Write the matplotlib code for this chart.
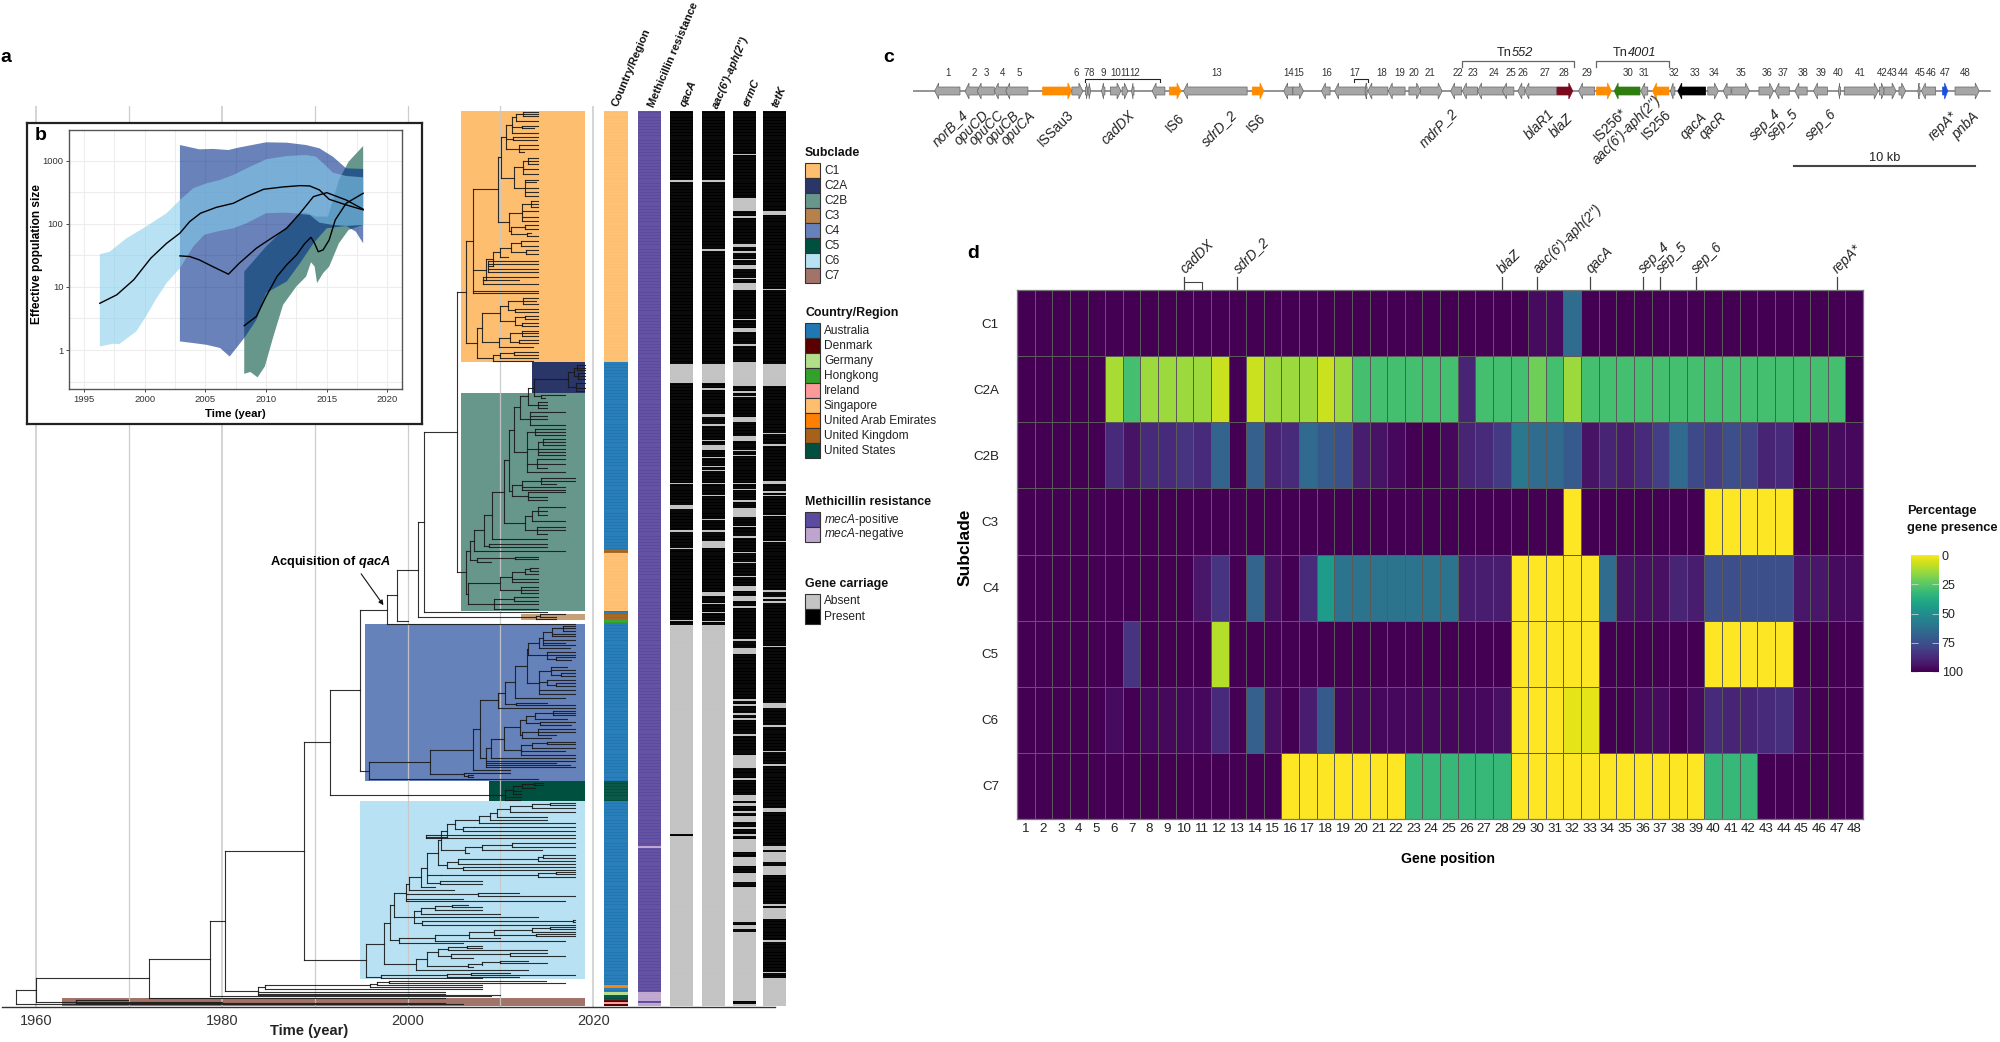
import numpy as np
import matplotlib
matplotlib.use('Agg')
import matplotlib.pyplot as plt
from matplotlib.collections import LineCollection
from matplotlib.patches import Rectangle

plt.rcParams['font.family'] = ['Liberation Sans', 'DejaVu Sans']
plt.rcParams['mathtext.fontset'] = 'custom'
plt.rcParams['mathtext.rm'] = 'Liberation Sans'
plt.rcParams['mathtext.it'] = 'Liberation Sans:italic'
plt.rcParams['mathtext.bf'] = 'Liberation Sans:bold'
plt.rcParams['mathtext.bfit'] = 'Liberation Sans:italic:bold'

W, H = 2000, 1042
N_ROWS = 312

# ---------- panel a: tree, node = (year, children...), leaf = [row, tip year]
C1 = (2006.3,
      (2007.0,
       (2009.7,
        (2010.1,
         (2010.6,
          (2011.3,
           (2011.7, (2012.4, [0.3, 2014], [1, 2014], [1.8, 2014]), [3.5, 2014]),
           (2012.3, [5.2, 2014], [6.2, 2013.6]),
           [7.6, 2014]),
          (2011.4, [9.2, 2014], [10.2, 2013.9]),
          (2012.0, [12, 2014], [13.2, 2014], [14.5, 2012.5])),
         (2011.5,
          (2012.4, (2013, [16.5, 2014], [17.5, 2014], [18.5, 2014]), [20.3, 2014], [22, 2014]),
          (2012.6, [24, 2014], [25, 2013.8], [27, 2014], [28.5, 2014], [29.8, 2014]))),
        (2010.9,
         (2012.3, (2013.3, [31.5, 2014], [32.5, 2014], [33.5, 2014]), [35, 2014], [37, 2014], [38.5, 2014]),
         (2011.1, (2012.6, [40, 2014], [41.2, 2014]), (2012.9, [42.5, 2013.3], [43.5, 2014])))),
       (2008.5,
        (2009.2,
         (2010.0,
          (2011.1, (2012.2, [45.5, 2014], [47, 2014]), (2012.8, [48.5, 2014], [49.8, 2014])),
          [51, 2010.8]),
         (2008.7, [52.2, 2014], [53.5, 2014], [55, 2014], [56.3, 2014])),
        (2008.1, [57.8, 2014], [59, 2012], [60.5, 2014])),
       [62.7, 2014], [63.5, 2014]),
      (2007.5,
       (2008.0,
        (2010.0,
         (2010.8, (2012.4, [65.3, 2014], [66.3, 2013.8], [67.5, 2014]), (2011.6, [69, 2014], [70, 2014])),
         (2011.6, (2012.6, [71.5, 2014], [72.5, 2014]), (2012.3, [74, 2014], [75, 2014]))),
        (2009.8,
         (2011.0, (2012.3, [76.6, 2014], [77.6, 2014], [78.5, 2014]), (2012, [80, 2014], [81, 2014])),
         [82.5, 2013.5])),
       (2009.2,
        (2010.0, (2011.5, [84, 2014], [85, 2014]), [86, 2014]),
        [87.2, 2013.5])))

C2A = (2017.3,
       (2017.9,
        (2018.3, [88.5, 2019.1], [89.5, 2019.1], [90.5, 2019.1]),
        (2018.4, [91.5, 2019.1], [92.5, 2019.1], [93.5, 2019.1])),
       (2018.2, [95, 2019.1], [96.5, 2019.1], [97.5, 2019]))

C2B = (2006.3,
       (2006.7,
        (2007.2,
         (2008.2,
          (2009.1,
           (2010.4,
            (2010.9,
             (2011.5,
              (2012.1,
               (2013.0,
                (2013.6, C2A,
                 (2014.4, [99, 2017], [100, 2014.8])),
                (2014.0, [101.5, 2015], [102.5, 2015], [103.5, 2015])),
               (2013.2, [105, 2017], [106.5, 2015], [107.5, 2015], [109.5, 2017])),
              (2012.9,
               (2013.7, [111, 2017], [112, 2017], [113, 2017]),
               (2014.0, (2014.6, [114.5, 2017], [115.5, 2017], [116.5, 2017]), [118, 2017], [119, 2017], [120, 2017]),
               (2013.9, [121.5, 2017], [123, 2017], [124.5, 2015]),
               [126, 2017])),
             (2011.3,
              (2012.3, (2014.4, [128, 2018], [129, 2018], [130, 2016]), [131, 2017], [132, 2017]),
              (2013.0, [133, 2017], [134.5, 2015], [135.8, 2015]))),
            (2012.6,
             (2013.4, (2014, [138, 2017], [139.5, 2015], [141, 2015]), [143, 2017]),
             (2013.9, [145, 2017], [146, 2017], [147.5, 2015]))),
           [149.3, 2015]),
          (2008.8, [151, 2015], [152, 2015])),
         [153.5, 2017]),
        (2007.5, (2011.6, [155.5, 2014], [156.3, 2014]), [157.3, 2009])),
       (2006.5,
        (2010.0,
         (2011.2, (2012.7, (2013.2, [159.3, 2014], [160.3, 2014]), [161.5, 2014]), [163, 2014], [164.3, 2014]),
         (2012.2, [165.8, 2014], [167, 2014], [168.2, 2014])),
        (2009.3, (2011.5, [169.5, 2014], [170.8, 2014]), [172, 2014], [173.5, 2014])))

C3 = (2013.8, (2014.3, [175.5, 2017], [176.3, 2016]), [177.2, 2016])

C4 = (1995.8,
      (2002.4,
       (2007.1,
        (2007.8,
         (2009.7,
          (2010.5,
           (2011.6,
            (2012.9,
             (2013.0,
              (2014.2,
               (2014.6, (2015.6, (2016.7, [179.5, 2018], [180.3, 2018], [181.2, 2018]), [182.4, 2018], [183.2, 2018]),
                [184.4, 2018], [185.3, 2017], [186, 2018]),
               [187.3, 2017.5]),
              (2015, [188.6, 2018], [189.5, 2018], (2016, [190.5, 2018], [191.3, 2017.6]))),
             (2014.2,
              (2015.5, [194, 2017.2], [195, 2018], (2016.5, [196, 2018], [197, 2018])),
              (2015, [198.4, 2018], (2016, [199.5, 2018], [200.5, 2018])),
              [202, 2018], [203.3, 2018])),
            [204.6, 2017]),
           (2011.7, [206.3, 2015], [206.9, 2018])),
          [208, 2018]),
         (2008.5,
          (2009.0,
           (2010.4,
            (2012.1,
             (2012.8,
              (2013.7, (2015.7, [209, 2018], [209.8, 2018], [210.6, 2018]), [211.8, 2017.2]),
              (2014.3, [213, 2018], [214, 2017.6])),
             (2012.3, (2014, [215.4, 2018], [216.4, 2018], [217.4, 2016]), [218.4, 2015.5])),
            (2012.2, (2013.4, (2015, [219.8, 2018], [220.8, 2018]), [222, 2018]), [223.2, 2017], [224.4, 2018])),
           [225.6, 2018]),
          [226.5, 2018], [227.2, 2016], [228, 2017.5], [228.8, 2018])),
        [229.8, 2011]),
       (2006.1, [230.6, 2011], (2006.5, [231.6, 2007], [232.2, 2007]))),
      [233, 2014])

C5 = (2010.5,
      (2011.4, (2012.3, (2013.6, [234.3, 2014.6], [235.1, 2014.6]), [236, 2013.7]), [237, 2012.2], [238, 2012.2]),
      [239, 2012.2], [240, 2012.1])

C6 = (1995.5,
      (1997.5,
       (1998.1,
        (1998.5,
         (1999.8,
          (2000.2,
           (2001.4,
            (2002.1,
             (2003.3,
              (2003.6,
               (2004.2,
                (2005.1,
                 (2007.7,
                  (2008.9,
                   (2009.6,
                    (2011, (2013.4, (2015.3, [241.2, 2018], [242, 2018]), [243, 2018]), [244.5, 2018]),
                    [246, 2015]),
                   [247, 2015]),
                  [248.3, 2018]),
                 (2006, (2007.2, [249.5, 2018]), [251, 2018])),
                (2002, [252.5, 2018], [253.5, 2018])),
               (2006.2, (2008, (2011.2, [255, 2018], [256.5, 2018]), [257.5, 2014.5]), [258.5, 2006.6])),
              (2004.2,
               (2005.4, (2014, (2014.6, [259.5, 2018], [260.5, 2018]), [261.5, 2018]), [262.5, 2018]),
               (2006, [263.5, 2018], [264.5, 2018]))),
             (2003.6, (2014, (2016, [265.3, 2018], [266, 2018]), [267, 2018])),
             (2003.5, [268.5, 2008], [269.5, 2008])),
            [270.5, 2003]),
           [271.5, 2005]),
          (2007.6, [272.5, 2012], [273.5, 2018]),
          [274.5, 2006], [275.5, 2017]),
         (2000.7,
          (2001.4, (2002.9, (2004.8, [276.6, 2006.5], [277.5, 2008]), [278.5, 2008]), [279.8, 2010]),
          [281, 2014],
          (2001.5, (2017.8, [282, 2018], [282.8, 2018]), [283.6, 2018]))),
        (1999.1,
         (2003,
          (2006.6,
           (2009.3, (2013.4, (2015.3, [284.4, 2018], [285.2, 2018]), [286, 2018]), (2013.8, [286.8, 2018], [287.5, 2018])),
           [288.2, 2010]),
          [289.2, 2017]),
         [290, 2006])),
       (2000.9,
        (2002.1,
         (2003.3,
          (2004.4, (2006.4, [291, 2008], [291.8, 2008]), [292.5, 2015]),
          (2004.7, (2011, [293.5, 2015], [294.5, 2017]), [295.3, 2007])),
         (2006.5,
          (2008, (2010, [296.3, 2013], [297, 2015]), [297.8, 2008]),
          [298.5, 2007])),
        [299.4, 2013])),
      (1997.1,
       (2004.2,
        (2006.8, [300.3, 2011], [301, 2018]),
        [301.7, 2012]),
       [302.3, 2008]))

C7 = (1964.3, [309.9, 1969.9], [310.4, 1980], [310.9, 2004])

BASAL = (1983.9,
         (1984.6,
          (1996,
           (1996.7, (1998, [303.3, 2014.9], [304.1, 2017]), [304.6, 2008]),
           [305.2, 2008]),
          [306.2, 2008]),
         [307.1, 2004], [307.6, 2004], [308, 2010])

TREE = (1957.8,
        (1960,
         (1972.1,
          (1978.7,
           (1980.3,
            (1988.8,
             (1991.6,
              (1994.9,
               (1997.8,
                (1998.9,
                 (2001.1,
                  (2001.8,
                   (2005.3, C1, C2B),
                   [174.6, 2015]),
                  C3),
                 [177.9, 2000]),
                [178.7, 2018]),
               C4),
              C5),
             C6),
            BASAL),
           [308.5, 2009]),
          [309.1, 2004]),
         C7),
        [311.4, 2006])

clade_names = ['C1', 'C2A', 'C2B', 'C3', 'C4', 'C5', 'C6', 'C7']
clade_colors = ['#FDBF6F', '#2A3568', '#66978A', '#B6814B', '#6682BA', '#00503F', '#B8E2F4', '#A27369']
clade_first_year = [2005.75, 2013.4, 2005.75, 2012.2, 1995.4, 2008.8, 1994.9, 1962.8]
clade_row_top = [0, 87.6, 98.2, 175.2, 179, 233.5, 240.6, 309.3]
clade_row_bottom = [87.6, 98.2, 174.3, 177.5, 233.5, 240.6, 302.4, 312]
clade_alpha = [1, 1, 1, .75, 1, 1, 1, 1]

country_names = ['Australia', 'Denmark', 'Germany', 'Hongkong', 'Ireland', 'Singapore',
                 'United Arab Emirates', 'United Kingdom', 'United States']
country_colors = ['#1F78B4', '#5A0000', '#B2DF8A', '#33A02C', '#FB9A99', '#FDBF6F',
                  '#FF7F00', '#A6611A', '#00503F']
country_runs = ['Singapore', 'Australia', 'United Kingdom', 'Singapore', 'Australia', 'United Kingdom',
                'Hongkong', 'Australia', 'United States', 'Australia', 'United Arab Emirates', 'Australia',
                'Germany', 'United States', 'Denmark', 'Ireland', 'Denmark']
country_lengths = [87.6, 65.6, 0.8, 20.4, 1.0, 2.2, 0.9, 55.1, 7.1, 64.1, 0.9, 1.5, 0.9, 1.7, 0.9, 0.6, 0.9]

meth_neg = [(256.1, .7), (307.1, 3), (310.8, 1.2)]
qacA_absent = [(24.3, .7), (88.2, 6.6), (129.7, .5), (137.5, 1.2), (146.2, .5), (152.5, .4),
               (177.4, .4), (179.2, 72.8), (252.8, 59.2)]
aac_absent = [(24.3, .7), (48.3, .5), (88.2, 6.6), (96.6, .6), (105.6, 1.2), (109.2, .6), (114.6, .6),
              (116.4, 1.8), (120.7, .4), (123.7, .5), (125.1, .5), (129.7, .5), (133.9, .4), (142.3, .5),
              (146.2, .5), (150, 2.5), (167.9, 1.2), (171.5, .5), (174.6, .5), (177.7, .4), (179.1, 132.9)]
ermC_absent = [(15, .6), (30.3, 4.5), (36.6, .9), (46.6, .8), (49, .5), (51.6, .6), (53.8, 1.4), (58.2, .6),
               (60, 2.4), (72.6, .5), (75.6, 1.4), (81.4, .5), (87.6, 8.2), (97.8, .5), (99.4, .5), (106.9, 1.7),
               (113.4, 1.6), (118.2, .4), (120, .5), (129.7, .5), (131.8, .5), (135.7, .6), (138.6, 3), (144.7, .5),
               (148.3, .5), (153.7, .4), (157.2, .5), (162, .5), (165.7, 1.8), (169, 2), (172.6, .6), (184, .7),
               (187.4, 2.1), (205.1, .5), (206.8, .6), (210, .6), (211.5, .8), (217.2, .7), (224.5, 4.7), (232.7, .6),
               (238.5, 2), (241.4, .9), (243.9, .7), (245.7, 2.3), (249.7, .6), (252, .6), (253.7, 4.8), (260.1, 3.2),
               (265.8, 3.1), (270.7, 12), (283.7, 1.3), (286.1, 24.2), (311.2, .8)]
tetK_absent = [(35, 1.2), (62, .5), (88.2, 7.6), (112.2, .5), (116.2, .5), (129, 1.2), (132.6, .5), (134, .4),
               (141, .4), (149.8, .5), (167, .9), (169.4, .6), (170.9, .5), (186.6, .4), (206.5, 1.8), (214.1, .5),
               (223, .6), (227.5, .9), (243.1, 1.4), (256.3, 1.3), (258.5, 3.2), (263.3, 3), (276.5, .5),
               (278, 3.8), (289, .8), (300, .6), (302.2, 9.8)]

column_titles = ['Country/Region', 'Methicillin resistance', 'qacA', "aac(6')-aph(2'')", 'ermC', 'tetK']
column_styles = ['normal', 'normal', 'italic', 'italic', 'italic', 'italic']

# ---------- panel b: skyline curves
c2b_hi_x = [2008.2, 2010, 2011.7, 2012.8, 2013.3, 2014.1, 2015.1, 2016, 2016.8, 2018]
c2b_hi = [17.5, 43.6, 90, 147, 150, 130, 130, 494, 963, 1703]
c2b_lo_x = [2008.2, 2008.7, 2009.3, 2009.9, 2010.6, 2011.4, 2012.5, 2013.3, 2013.7, 2014, 2014.2, 2014.7, 2015.2, 2016, 2016.8, 2018]
c2b_lo = [.42, .45, .37, .55, 1.64, 5.2, 10.2, 14.6, 24.6, 21, 11.5, 16.5, 21, 49, 80, 96]
c2b_mid_x = [2008.2, 2009.2, 2010, 2010.9, 2011.7, 2012.5, 2013.2, 2013.7, 2014, 2014.3, 2014.7, 2015.2, 2015.7, 2016.6, 2018]
c2b_mid = [2.43, 3.4, 7.06, 14.6, 22.4, 32, 49, 61, 49, 36, 38.6, 55.6, 115, 211, 304]

c4_hi_x = [2002.9, 2004.5, 2005.6, 2006.9, 2007.7, 2010, 2011.7, 2013.3, 2014.4, 2015.5, 2016.6, 2018]
c4_hi = [1766, 1510, 1533, 1473, 1603, 1950, 1925, 1766, 1566, 1156, 755, 738]
c4_lo_x = [2002.9, 2004, 2005.1, 2006.2, 2007, 2008.2, 2009.2, 2010, 2011.7, 2012.8, 2013.9, 2015, 2016.6, 2017.4, 2018]
c4_lo = [1.37, 1.29, 1.21, 1.08, .79, 1.55, 3, 8, 12.2, 23.8, 49, 85, 92, 75, 49]
c4_mid_x = [2002.9, 2003.7, 2004.5, 2005.6, 2006.9, 2007.8, 2009.2, 2010, 2011.7, 2012.8, 2013.9, 2015, 2016.6, 2018]
c4_mid = [31, 30.3, 26.8, 21, 15.9, 23.8, 41, 52, 85, 147, 269, 311, 238, 170]

c6_hi_x = [1996.3, 1997.1, 1998.5, 2000.1, 2001.8, 2002.9, 2004, 2005.1, 2006.2, 2007.3, 2008.4, 2010, 2011.7, 2013.3, 2014.1, 2015, 2015.5, 2016.6, 2018]
c6_hi = [33, 36, 59, 90, 147, 238, 365, 438, 494, 593, 755, 1050, 1184, 1227, 1156, 803, 645, 571, 544]
c6_lo_x = [1996.3, 1997.4, 1997.9, 1999.3, 2000.1, 2000.9, 2001.8, 2002.9, 2004, 2004.9, 2005.9, 2007.3, 2008.4, 2010, 2011.7, 2013.6, 2014.4, 2015.5, 2016.6, 2018]
c6_lo = [1.14, 1.26, 1.24, 1.97, 3.4, 6.25, 11.5, 19.8, 43.6, 66.7, 75, 85, 102, 147, 150, 138, 104, 96, 92.5, 96]
c6_mid_x = [1996.3, 1997.7, 1999.1, 2000.5, 2001.8, 2002.9, 2003.7, 2004.6, 2005.9, 2007.3, 2008.4, 2009.8, 2011.4, 2012.8, 2013.6, 2014.4, 2015.2, 2016.6, 2018]
c6_mid = [5.5, 7.5, 13, 28.5, 49, 71, 108, 147, 182, 211, 269, 352, 383, 402, 397, 343, 244, 199, 166]

# ---------- panel c: gene map (kb)
gene_start = [1.20, 2.88, 3.55, 4.50, 5.13, 7.17, 8.79, 9.54, 9.69, 10.43, 10.92, 11.57, 12.09, 13.23, 14.18, 14.97, 18.77,
              20.51, 21.02, 22.60, 23.33, 25.01, 25.17, 26.30, 27.44, 28.09, 29.75, 30.40, 31.24, 32.62, 33.47, 33.86,
              35.64, 36.83, 37.82, 38.80, 40.27, 40.92, 41.91, 42.32, 43.98, 44.83, 45.31, 46.81, 47.70, 48.80, 49.83,
              51.20, 51.53, 53.47, 53.73, 54.56, 55.60, 55.80, 56.97, 57.66]
gene_end = [2.60, 3.61, 4.50, 5.19, 6.36, 8.79, 9.40, 9.68, 9.83, 10.62, 11.51, 11.89, 12.23, 13.94, 14.83, 18.49, 19.42,
            21.02, 21.61, 23.08, 25.05, 25.13, 26.28, 27.23, 28.09, 29.28, 30.35, 31.24, 32.72, 33.25, 33.86, 35.62,
            36.51, 37.72, 38.65, 40.23, 40.66, 41.83, 42.16, 43.86, 44.57, 45.27, 46.29, 47.62, 48.49, 49.48, 50.60,
            51.33, 53.41, 53.77, 54.40, 54.93, 55.72, 56.59, 57.26, 59.00]
gene_strand = list('LLLLLRRRRLRRLLRLRLRLLLLLRRLLLLLLRLRLLLLLRLRRLLLLRRRRLLRR')
gene_special = {5: '#FF8C00', 14: '#FF8C00', 16: '#FF8C00', 32: '#7A0A1E', 34: '#FF8C00', 35: '#2E7D0E',
                37: '#FF8C00', 39: '#000000', 54: '#1A50E0'}
number_pos = [1.91, 3.39, 4.06, 4.93, 5.88, 9.02, 9.56, 9.87, 10.53, 11.22, 11.73, 12.25, 16.83, 20.80, 21.36,
              22.90, 24.46, 25.92, 26.91, 27.72, 28.59, 30.15, 30.98, 32.16, 33.09, 33.75, 34.95, 36.02, 37.28,
              39.56, 40.48, 42.10, 43.27, 44.32, 45.82, 47.24, 48.17, 49.24, 50.23, 51.21, 52.44, 53.63, 54.20,
              54.81, 55.76, 56.35, 57.14, 58.25]
map_labels = ['norB_4', 'opuCD', 'opuCC', 'opuCB', 'opuCA', 'ISSau3', 'cadDX', 'IS6', 'sdrD_2', 'IS6', 'mdrP_2',
              'blaR1', 'blaZ', 'IS256*', "aac(6')-aph(2'')", 'IS256', 'qacA', 'qacR', 'sep_4', 'sep_5', 'sep_6',
              'repA*', 'pnbA']
map_label_pos = [2.03, 3.27, 4.10, 4.95, 5.82, 7.90, 11.38, 14.48, 16.95, 18.98, 29.1, 34.69, 35.88, 38.61, 39.48,
                 41.16, 43.19, 44.28, 47.18, 48.17, 50.27, 56.99, 58.25]
map_label_drop = [37, 37, 37, 37, 37, 37, 37, 32, 37, 32, 37, 34, 35, 34, 39, 34, 35, 35, 34, 34, 34, 35, 35]

# ---------- panel d: percentage presence per gene position
positions = list(range(1, 49))
subclades = ['C1', 'C2A', 'C2B', 'C3', 'C4', 'C5', 'C6', 'C7']
pct_c1 = [100]*29 + [97, 97, 65] + [100]*16
pct_c2a = [100, 100, 100, 100, 100, 13, 30, 15, 15, 15, 15, 8, 100, 8, 15, 15, 15, 8, 15, 30, 30, 30, 30, 30, 30, 90,
           30, 30, 30, 22, 30, 15, 30, 30, 30, 30, 30, 30, 30, 30, 30, 30, 30, 30, 30, 30, 30, 100]
pct_c2b = [100, 100, 100, 100, 100, 88, 95, 88, 88, 85, 88, 68, 100, 70, 90, 88, 66, 72, 75, 92, 95, 98, 100, 100,
           98, 90, 88, 83, 60, 65, 66, 72, 95, 90, 92, 88, 82, 66, 78, 82, 76, 80, 90, 88, 100, 97, 97, 98]
pct_c3 = [100]*31 + [0] + [100]*7 + [0, 0, 0, 0, 0] + [100]*4
pct_c4 = [100]*10 + [94, 85, 100, 68, 96, 100, 88, 45, 62, 62, 62, 62, 62, 62, 62, 92, 92, 92, 0, 0, 0, 0, 0, 65, 95,
          96, 96, 90, 92, 76, 76, 76, 76, 76, 94, 94, 97, 97]
pct_c5 = [100]*6 + [85] + [100]*4 + [11] + [100]*16 + [0, 0, 0, 0, 0] + [100]*6 + [0, 0, 0, 0, 0] + [100]*4
pct_c6 = [100, 100, 100, 100, 100, 97, 100, 98, 98, 98, 98, 88, 100, 70, 96, 100, 92, 72, 98, 98, 98, 98, 98, 98, 98,
          98, 98, 96, 0, 0, 0, 4, 4, 100, 100, 97, 97, 100, 97, 88, 90, 90, 88, 86, 97, 100, 100, 100]
pct_c7 = [100]*15 + [0]*7 + [33]*6 + [0]*11 + [33, 33, 33] + [100]*6
heat_marks = {10: 'cadDX', 13: 'sdrD_2', 28: 'blaZ', 30: "aac(6')-aph(2'')", 33: 'qacA', 36: 'sep_4', 37: 'sep_5',
              39: 'sep_6', 47: 'repA*'}


def px_axes(left, top, right, bottom, **kw):
    return fig.add_axes([left / W, 1 - bottom / H, (right - left) / W, (bottom - top) / H], **kw)


def draw_node(node, segs):
    # returns y of the node, collects line segments
    if isinstance(node, list):
        return node[0]
    year = node[0]
    ys = []
    for child in node[1:]:
        y = draw_node(child, segs)
        end = child[1] if isinstance(child, list) else child[0]
        segs.append([(year, y), (end, y)])
        ys.append(y)
    segs.append([(year, min(ys)), (year, max(ys))])
    return (ys[0] + ys[-1]) / 2


fig = plt.figure(figsize=(W / 100, H / 100), dpi=100)
fig.patch.set_facecolor('white')

# ----- tree
ax = px_axes(2, 105.5, 775, 1007)
ax.patch.set_alpha(0)
px_per_year = 9.28
ax.set_xlim(1960 + (2 - 36.4) / px_per_year, 1960 + (775 - 36.4) / px_per_year)
ax.set_ylim((1007 - 110.7) / 2.87, (105.5 - 110.7) / 2.87)
for s in ['top', 'left', 'right']:
    ax.spines[s].set_visible(False)
ax.spines['bottom'].set_color('#333333')
ax.spines['bottom'].set_linewidth(1)
ax.set_yticks([])
ax.set_xticks([1960, 1980, 2000, 2020])
ax.tick_params(axis='x', labelsize=10.5, labelcolor='#333333', length=0, pad=5)
ax.set_xlabel('Time (year)', fontsize=10.6, fontweight='bold', labelpad=1, color='#222222')
ax.xaxis.set_label_coords((309 - 2) / 773, -0.019)
for yr in [1960, 1970, 1980, 1990, 2000, 2010, 2020]:
    ax.axvline(yr, color='#C8C8C8', lw=1.2 if yr in (1960, 1980, 2020) else 0.9, alpha=.9, zorder=2)
for i in range(8):
    ax.barh((clade_row_top[i] + clade_row_bottom[i]) / 2, 2019.1 - clade_first_year[i],
            height=clade_row_bottom[i] - clade_row_top[i], left=clade_first_year[i],
            color=clade_colors[i], alpha=clade_alpha[i], zorder=1, linewidth=0)
segs = []
draw_node(TREE, segs)
ax.add_collection(LineCollection(segs, colors='#1a1a1a', linewidths=0.8, alpha=.9, zorder=3, capstyle='projecting'))
ax.annotate(r'Acquisition of $\mathbfit{qacA}$', xy=(1997.4, 172.3), xytext=(1991.7, 160),
            fontsize=9.2, fontweight='bold', ha='center', va='bottom',
            arrowprops=dict(arrowstyle='-|>', color='#111111', lw=.8, shrinkA=1, shrinkB=0, mutation_scale=7,
                            relpos=(.73, 0)))

# ----- annotation columns
col_left = [604.3, 637.7, 670, 702.3, 732.7, 763]
col_width = 23.2
title_xy = [(620, 108), (656, 109), (688, 108), (720, 110), (750, 108), (779, 109)]


def column_axes(i):
    c = px_axes(col_left[i], 110.7, col_left[i] + col_width, 1006)
    c.set_xlim(0, 1)
    c.set_ylim(N_ROWS, 0)
    c.axis('off')
    return c


def stripes(c, color, alpha):
    c.hlines(np.arange(N_ROWS), 0, 1, color=color, lw=.35, alpha=alpha, zorder=5)


c = column_axes(0)
tops = np.concatenate([[0], np.cumsum(country_lengths)[:-1]])
c.barh(tops + np.array(country_lengths) / 2, 1, height=country_lengths,
       color=[country_colors[country_names.index(n)] for n in country_runs], linewidth=0)
stripes(c, 'white', .22)

c = column_axes(1)
c.barh(N_ROWS / 2, 1, height=N_ROWS, color='#5C4A9E', linewidth=0)
for st, ln in meth_neg:
    c.barh(st + ln / 2, 1, height=ln, color='#BEA5CF', linewidth=0)
stripes(c, 'white', .22)

for i, absent in zip([2, 3, 4, 5], [qacA_absent, aac_absent, ermC_absent, tetK_absent]):
    c = column_axes(i)
    c.barh(N_ROWS / 2, 1, height=N_ROWS, color='black', linewidth=0)
    for st, ln in absent:
        c.barh(st + ln / 2, 1, height=ln, color='#C4C4C4', linewidth=0)
    stripes(c, '#BBBBBB', .22)

# ----- panel b
frame = px_axes(27, 123, 422, 424)
frame.set_xticks([])
frame.set_yticks([])
frame.set_facecolor('white')
frame.set_zorder(5)
for s in frame.spines.values():
    s.set_linewidth(1.6)
    s.set_color('#222222')

ne = px_axes(69, 130, 402, 389)
ne.set_zorder(6)
ne.set_yscale('log')
ne.set_xlim(1993.76, 2021.2)
ne.set_ylim(0.2416, 3055)
ne.set_xticks([1995, 2000, 2005, 2010, 2015, 2020])
ne.set_yticks([1, 10, 100, 1000])
ne.set_yticklabels(['1', '10', '100', '1000'])
ne.set_xticks([1997.5, 2002.5, 2007.5, 2012.5, 2017.5], minor=True)
ne.set_yticks([.316, 3.16, 31.6, 316], minor=True)
ne.set_yticklabels([], minor=True)
ne.tick_params(which='minor', length=0)
ne.tick_params(which='major', labelsize=6.8, length=2, width=.7, color='#444444', labelcolor='#333333', pad=2)
ne.grid(True, which='both', color='#EDEDED', lw=.8)
ne.set_axisbelow(True)
for s in ne.spines.values():
    s.set_color('#555555')
    s.set_linewidth(1)
ne.set_xlabel('Time (year)', fontsize=8.2, fontweight='bold', labelpad=4)
ne.set_ylabel('Effective population size', fontsize=8.6, fontweight='bold')
ne.yaxis.set_label_coords(-0.0766, .521)
ne.fill(np.r_[c2b_hi_x, c2b_lo_x[::-1]], np.r_[c2b_hi, c2b_lo[::-1]], color='#66978A', lw=0)
ne.plot(c2b_mid_x, c2b_mid, color='black', lw=1)
ne.fill(np.r_[c4_hi_x, c4_lo_x[::-1]], np.r_[c4_hi, c4_lo[::-1]], color='#002B8A', alpha=.59, lw=0)
ne.plot(c4_mid_x, c4_mid, color='black', lw=1)
ne.fill(np.r_[c6_hi_x, c6_lo_x[::-1]], np.r_[c6_hi, c6_lo[::-1]], color='#85CEED', alpha=.58, lw=0)
ne.plot(c6_mid_x, c6_mid, color='black', lw=1)

# ----- panel c
gm = px_axes(913, 40, 2000, 200)
gm.set_xlim(0, 60.15)
gm.set_ylim(-109, 51)
gm.axis('off')
gm.plot([0, 59.6], [0, 0], color='#777777', lw=1.1, zorder=1)
for i, (a, b, st) in enumerate(zip(gene_start, gene_end, gene_strand)):
    head = min(.22, (b - a) * .6)
    col = gene_special.get(i, '#A6A6A6')
    if st == 'R':
        xs = [a, b - head, b - head, b, b - head, b - head, a]
    else:
        xs = [b, a + head, a + head, a, a + head, a + head, b]
    ys = [4, 4, 8, 0, -8, -4, -4]
    gm.fill(xs, ys, facecolor=col, edgecolor='#666666' if col == '#A6A6A6' else col, lw=.5, zorder=2)
for n, x in enumerate(number_pos):
    gm.text(x, 18, str(n + 1), fontsize=7, color='#333333', ha='center', va='center')
for name, x, d in zip(map_labels, map_label_pos, map_label_drop):
    gm.text(x, -d, name, fontsize=9.8, rotation=45, ha='center', va='center', color='#222222',
            style='normal' if name.startswith('IS') else 'italic')
gm.plot([9.54, 9.54, 13.69, 13.69], [9, 12, 12, 9], color='#222222', lw=.8)
gm.plot([24.4, 24.4, 25.2, 25.2], [9, 12, 12, 9], color='#222222', lw=.8)
gm.plot([30.4, 30.4, 36.57, 36.57], [24.5, 30.3, 30.3, 24.5], color='#666666', lw=.9)
gm.plot([37.8, 37.8, 41.83, 41.83], [24.5, 30.3, 30.3, 24.5], color='#666666', lw=.9)
for split, num in [(33.13, '552'), (39.57, '4001')]:
    gm.text(split, 38.3, 'Tn', fontsize=9.2, ha='right', va='center', color='#222222')
    gm.text(split, 38.3, num, fontsize=9.2, ha='left', va='center', style='italic', color='#222222')
gm.plot([48.76, 58.76], [-75, -75], color='#444444', lw=1.5)
gm.text(53.76, -67, '10 kb', fontsize=9.2, ha='center', va='center', color='#222222')

# ----- panel d
hm = px_axes(1017, 290, 1863, 819)
matrix = np.array([pct_c1, pct_c2a, pct_c2b, pct_c3, pct_c4, pct_c5, pct_c6, pct_c7])
mesh = hm.pcolormesh(matrix, cmap='viridis_r', vmin=0, vmax=100, edgecolors='#5A5A5A', linewidth=.55)
hm.set_ylim(8, 0)
hm.set_xticks(np.arange(48) + .5)
hm.set_xticklabels(positions)
hm.set_yticks(np.arange(8) + .5)
hm.set_yticklabels(subclades)
hm.tick_params(axis='both', length=0, labelsize=9.6, labelcolor='#222222')
hm.tick_params(axis='x', pad=3)
hm.tick_params(axis='y', pad=13)
for s in hm.spines.values():
    s.set_color('#777777')
    s.set_linewidth(.9)
hm.set_xlabel('Gene position', fontsize=10.2, fontweight='bold', labelpad=12)
hm.xaxis.label.set_x(.509)
hm.set_ylabel('Subclade', fontsize=12.5, fontweight='bold')
hm.yaxis.set_label_coords(-0.0525, .514)
for pos, name in heat_marks.items():
    x = pos - .5
    top = -13 / 66
    hm.plot([x, x], [0, top], color='#444444', lw=.9, clip_on=False)
    if name == 'cadDX':
        hm.plot([x, x + 1, x + 1], [-8 / 66, -8 / 66, 0], color='#444444', lw=.8, clip_on=False)
    hm.text(x + .2, top - 1 / 66, name, fontsize=9.8, rotation=45, style='italic',
            ha='left', va='bottom', rotation_mode='anchor', color='#222222')

cax = px_axes(1911, 555, 1939, 672)
cb = fig.colorbar(mesh, cax=cax)
cax.invert_yaxis()
cb.set_ticks([0, 25, 50, 75, 100])
cb.outline.set_visible(False)
cb.solids.set_edgecolor('face')
cax.tick_params(axis='y', length=5, width=.5, color='#DDDDDD', direction='in', left=True, right=True,
                labelsize=9, labelcolor='#222222', pad=2)

# ----- texts and legends on a full figure layer
ov = fig.add_axes([0, 0, 1, 1], zorder=10)
ov.set_xlim(0, W)
ov.set_ylim(H, 0)
ov.axis('off')
ov.patch.set_alpha(0)
for t, st, (x, y) in zip(column_titles, column_styles, title_xy):
    ov.text(x, y, t, rotation=67, ha='left', va='bottom', rotation_mode='anchor',
            fontsize=8, fontweight='bold', style=st, color='#111111')
for letter, x, y in [('a', 6, 58), ('b', 41, 136), ('c', 889, 57), ('d', 973, 253)]:
    ov.text(x, y, letter, fontsize=14, fontweight='bold', ha='center', va='center', color='black')
ov.text(1907, 511, 'Percentage', fontsize=9.3, fontweight='bold', va='center', color='#111111')
ov.text(1907, 528, 'gene presence', fontsize=9.3, fontweight='bold', va='center', color='#111111')


def legend_block(title, labels, colors, y_title, y_first):
    ov.text(805, y_title, title, fontsize=8.9, fontweight='bold', va='center', color='#111111')
    for i, (lab, col) in enumerate(zip(labels, colors)):
        ov.add_patch(Rectangle((805, y_first + i * 15), 14.7, 15, facecolor=col, edgecolor='#333333', lw=.8))
        ov.text(824, y_first + i * 15 + 7.5, lab, fontsize=8.6, va='center', color='#222222')


legend_block('Subclade', clade_names, clade_colors, 152.7, 163.3)
legend_block('Country/Region', country_names, country_colors, 312.7, 323.3)
legend_block('Methicillin resistance', [r'$\mathit{mecA}$-positive', r'$\mathit{mecA}$-negative'],
             ['#5C4A9E', '#BEA5CF'], 501.7, 512)
legend_block('Gene carriage', ['Absent', 'Present'], ['#C4C4C4', '#000000'], 583.7, 594)

fig.savefig('out.png', dpi=100)
